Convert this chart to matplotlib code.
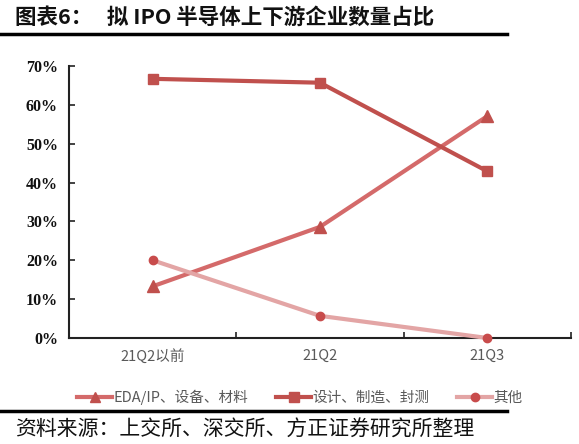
import matplotlib
matplotlib.use("Agg")
import matplotlib.pyplot as plt
from matplotlib.lines import Line2D
from matplotlib.ticker import FuncFormatter, FixedLocator

plt.rcParams['font.family'] = ['Noto Sans CJK SC', 'DejaVu Sans']

categories = ["21Q2以前", "21Q2", "21Q3"]
series_names = ["EDA/IP、设备、材料", "设计、制造、封测", "其他"]
eda_vals = [0.133, 0.286, 0.571]
design_vals = [0.667, 0.657, 0.429]
other_vals = [0.200, 0.057, 0.0]
yticks = [0, 0.1, 0.2, 0.3, 0.4, 0.5, 0.6, 0.7]

title_text = "图表6：   拟 IPO 半导体上下游企业数量占比"
source_text = "资料来源：上交所、深交所、方正证券研究所整理"

fig = plt.figure(figsize=(5.79, 4.44), dpi=100)
ax = fig.add_axes([69/579, 1-338/444, (571-69)/579, (338-66)/444])

x = list(range(len(categories)))
marker_col = "#C0504D"
ax.plot(x, eda_vals, color="#D46A6A", lw=3, marker="^", ms=8,
        mfc=marker_col, mec=marker_col, solid_capstyle="butt", zorder=3)
ax.plot(x, design_vals, color="#C0504D", lw=3, marker="s", ms=7.5,
        mfc=marker_col, mec=marker_col, zorder=3)
ax.plot(x, other_vals, color="#E3A5A5", lw=3, marker="o", ms=6,
        mfc="#C84C4C", mec="#C84C4C", zorder=3, clip_on=False)

ax.set_xlim(-0.5, len(categories) - 0.5)
ax.set_ylim(0, 0.7)
ax.set_yticks(yticks)
ax.yaxis.set_major_formatter(FuncFormatter(lambda v, p: f"{v*100:.0f}%"))
ax.set_xticks(x)
ax.set_xticklabels(categories)
ax.xaxis.set_minor_locator(FixedLocator([i - 0.5 for i in range(len(categories) + 1)]))
ax.tick_params(axis='x', which='major', length=0, pad=8, labelsize=10.5, labelcolor="#595959")
ax.tick_params(axis='x', which='minor', length=4, direction='in', width=1.2, color="#222222")
ax.tick_params(axis='y', length=4, direction='in', width=1.2, color="#222222", pad=8)
for lab in ax.get_yticklabels():
    lab.set_fontfamily(['Liberation Serif', 'DejaVu Serif'])
    lab.set_fontweight('bold')
    lab.set_fontsize(11.5)
    lab.set_color("#111111")

for s in ['top', 'right']:
    ax.spines[s].set_visible(False)
for s in ['left', 'bottom']:
    ax.spines[s].set_linewidth(1.5)
    ax.spines[s].set_color("#222222")

handles = [
    Line2D([], [], color="#D46A6A", lw=3, marker="^", ms=7, mfc=marker_col, mec=marker_col),
    Line2D([], [], color="#C0504D", lw=3, marker="s", ms=7, mfc=marker_col, mec=marker_col),
    Line2D([], [], color="#E3A5A5", lw=3, marker="o", ms=6, mfc="#C84C4C", mec="#C84C4C"),
]
leg = fig.legend(handles, series_names, loc='center', bbox_to_anchor=(300/579, 1-397/444),
                 ncol=3, frameon=False, fontsize=10.5, handlelength=2.4, handletextpad=0.1,
                 columnspacing=1.9, labelcolor="#595959")

fig.text(15/579, 1-17/444, title_text, fontsize=15.5, fontweight='bold', va='center', ha='left',
         color="#111111")
fig.add_artist(Line2D([1/579, 507/579], [1-34/444, 1-34/444], color='black', lw=2.5,
                      transform=fig.transFigure))
fig.add_artist(Line2D([1/579, 507/579], [1-411/444, 1-411/444], color='black', lw=2.5,
                      transform=fig.transFigure))
fig.text(15/579, 1-430/444, source_text, fontsize=15, style='italic', va='center', ha='left',
         color="#111111")

fig.savefig("out.png", dpi=100)
